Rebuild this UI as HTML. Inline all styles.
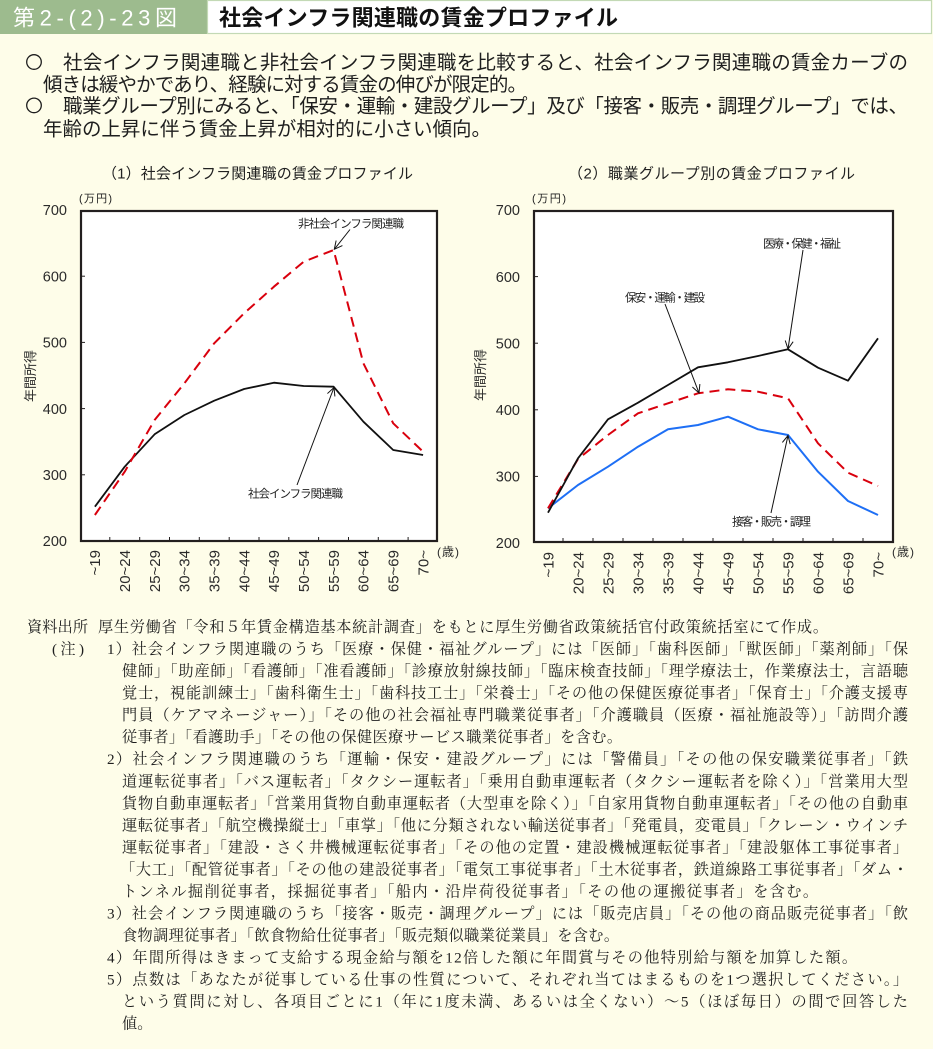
<!DOCTYPE html>
<html><head><meta charset="utf-8">
<style>
html,body{margin:0;padding:0;background:#fefde9;}
body{width:933px;height:1049px;overflow:hidden;position:relative;}
svg{position:absolute;left:0;top:0;}
.s{font-family:"Liberation Sans","Noto Sans CJK JP",sans-serif;}
.m{font-family:"Liberation Serif","Noto Serif CJK SC",serif;}
</style></head>
<body>
<svg width="933" height="1049" viewBox="0 0 933 1049" xmlns="http://www.w3.org/2000/svg">
<defs>
<marker id="ah" markerWidth="10" markerHeight="10" refX="9" refY="5" orient="auto" markerUnits="userSpaceOnUse">
<path d="M1,1 L9,5 L1,9" fill="none" stroke="#111" stroke-width="1"/>
</marker>
</defs>
<rect x="0" y="0" width="933" height="1049" fill="#fefde9"/>
<!-- header -->
<rect x="0" y="0" width="207" height="34" fill="#9dbb8e"/>
<rect x="207.5" y="0.5" width="724" height="33" fill="#ffffff" stroke="#c3d9b5" stroke-width="1.2"/>
<text class="s" x="13" y="25.5" font-size="22" fill="#ffffff" textLength="164" lengthAdjust="spacing">第2-(2)-23図</text>
<text class="s" x="219" y="25.5" font-size="22" font-weight="bold" fill="#111" textLength="399" lengthAdjust="spacing">社会インフラ関連職の賃金プロファイル</text>

<!-- bullets -->
<circle cx="34" cy="62" r="7.3" fill="none" stroke="#1e1e1e" stroke-width="1.3"/>
<circle cx="34" cy="105.4" r="7.3" fill="none" stroke="#1e1e1e" stroke-width="1.3"/>
<g class="s" font-size="19.5" fill="#1e1e1e">
<text x="63" y="69" textLength="845" lengthAdjust="spacing">社会インフラ関連職と非社会インフラ関連職を比較すると、社会インフラ関連職の賃金カーブの</text>
<text x="43" y="91" textLength="484" lengthAdjust="spacing">傾きは緩やかであり、経験に対する賃金の伸びが限定的。</text>
<text x="63" y="112.4" textLength="845" lengthAdjust="spacing">職業グループ別にみると、「保安・運輸・建設グループ」及び「接客・販売・調理グループ」では、</text>
<text x="43" y="135.4" textLength="448" lengthAdjust="spacing">年齢の上昇に伴う賃金上昇が相対的に小さい傾向。</text>
</g>

<!-- chart 1 -->
<g class="s" fill="#222">
<text x="102" y="178.7" font-size="15" textLength="311" lengthAdjust="spacing">（1）社会インフラ関連職の賃金プロファイル</text>
<text x="79" y="202" font-size="11" textLength="33" lengthAdjust="spacing">(万円)</text>
<g font-size="14.5" text-anchor="end" fill="#2b2b2b">
<text x="67" y="215.2">700</text>
<text x="67" y="281.4">600</text>
<text x="67" y="347.6">500</text>
<text x="67" y="413.8">400</text>
<text x="67" y="480">300</text>
<text x="67" y="546.2">200</text>
</g>
<text transform="translate(35,376) rotate(-90)" font-size="13" text-anchor="middle" fill="#2b2b2b">年間所得</text>
</g>
<rect x="81" y="211" width="356" height="330" fill="#ffffff" stroke="#231f1f" stroke-width="2.2"/>
<g stroke="#231f1f" stroke-width="1">
<line x1="109.8" y1="541" x2="109.8" y2="537"/>
<line x1="139.7" y1="541" x2="139.7" y2="537"/>
<line x1="169.5" y1="541" x2="169.5" y2="537"/>
<line x1="199.3" y1="541" x2="199.3" y2="537"/>
<line x1="229.2" y1="541" x2="229.2" y2="537"/>
<line x1="259" y1="541" x2="259" y2="537"/>
<line x1="288.8" y1="541" x2="288.8" y2="537"/>
<line x1="318.6" y1="541" x2="318.6" y2="537"/>
<line x1="348.5" y1="541" x2="348.5" y2="537"/>
<line x1="378.3" y1="541" x2="378.3" y2="537"/>
<line x1="408.1" y1="541" x2="408.1" y2="537"/>
<line x1="81" y1="276.2" x2="85" y2="276.2"/>
<line x1="81" y1="342.4" x2="85" y2="342.4"/>
<line x1="81" y1="408.6" x2="85" y2="408.6"/>
<line x1="81" y1="474.8" x2="85" y2="474.8"/>
</g>
<polyline fill="none" stroke="#111" stroke-width="1.8" stroke-linejoin="round"
 points="94.9,506.7 124.7,466.7 154.6,434.3 184.4,415 214.2,400.7 244.1,389 273.9,382.7 303.7,386 333.6,386.7 363.4,421.7 393.2,450 423.1,455"/>
<polyline fill="none" stroke="#d9000d" stroke-width="2" stroke-dasharray="10 6" stroke-linejoin="round"
 points="94.9,515 124.7,471.7 154.6,420 184.4,383.3 214.2,343.3 244.1,313.3 273.9,286.7 303.7,261.7 333.6,250 363.4,363.3 393.2,423.3 423.1,451.7"/>
<g class="s" font-size="15" fill="#2b2b2b" text-anchor="end">
<text transform="translate(100.2,550) rotate(-90)">~19</text>
<text transform="translate(130,550) rotate(-90)">20~24</text>
<text transform="translate(159.9,550) rotate(-90)">25~29</text>
<text transform="translate(189.7,550) rotate(-90)">30~34</text>
<text transform="translate(219.5,550) rotate(-90)">35~39</text>
<text transform="translate(249.4,550) rotate(-90)">40~44</text>
<text transform="translate(279.2,550) rotate(-90)">45~49</text>
<text transform="translate(309,550) rotate(-90)">50~54</text>
<text transform="translate(338.9,550) rotate(-90)">55~59</text>
<text transform="translate(368.7,550) rotate(-90)">60~64</text>
<text transform="translate(398.5,550) rotate(-90)">65~69</text>
<text transform="translate(428.4,550) rotate(-90)">70~</text>
</g>
<text class="s" x="437" y="556" font-size="12" fill="#2b2b2b" textLength="22" lengthAdjust="spacing">(歳)</text>
<g class="s" font-size="11.5" fill="#222">
<text x="298" y="227.5" textLength="106" lengthAdjust="spacing">非社会インフラ関連職</text>
<text x="248" y="497.5" textLength="95" lengthAdjust="spacing">社会インフラ関連職</text>
</g>
<g stroke="#111" stroke-width="1" fill="none">
<line x1="350" y1="229.5" x2="334.3" y2="249.3" marker-end="url(#ah)"/>
<line x1="297" y1="485" x2="334" y2="387.5" marker-end="url(#ah)"/>
</g>

<!-- chart 2 -->
<g class="s" fill="#222">
<text x="568" y="178.7" font-size="15" textLength="287" lengthAdjust="spacing">（2）職業グループ別の賃金プロファイル</text>
<text x="532" y="202" font-size="11" textLength="34" lengthAdjust="spacing">(万円)</text>
<g font-size="14.5" text-anchor="end" fill="#2b2b2b">
<text x="520" y="215.2">700</text>
<text x="520" y="281.8">600</text>
<text x="520" y="348.4">500</text>
<text x="520" y="415">400</text>
<text x="520" y="481.6">300</text>
<text x="520" y="548.2">200</text>
</g>
<text transform="translate(485,375) rotate(-90)" font-size="13" text-anchor="middle" fill="#2b2b2b">年間所得</text>
</g>
<rect x="534" y="211" width="359" height="331" fill="#ffffff" stroke="#231f1f" stroke-width="2.2"/>
<g stroke="#231f1f" stroke-width="1">
<line x1="563" y1="542" x2="563" y2="538"/>
<line x1="593" y1="542" x2="593" y2="538"/>
<line x1="623" y1="542" x2="623" y2="538"/>
<line x1="653" y1="542" x2="653" y2="538"/>
<line x1="683" y1="542" x2="683" y2="538"/>
<line x1="713" y1="542" x2="713" y2="538"/>
<line x1="743" y1="542" x2="743" y2="538"/>
<line x1="773" y1="542" x2="773" y2="538"/>
<line x1="803" y1="542" x2="803" y2="538"/>
<line x1="833" y1="542" x2="833" y2="538"/>
<line x1="863" y1="542" x2="863" y2="538"/>
<line x1="534" y1="276.6" x2="538" y2="276.6"/>
<line x1="534" y1="343.2" x2="538" y2="343.2"/>
<line x1="534" y1="409.8" x2="538" y2="409.8"/>
<line x1="534" y1="476.4" x2="538" y2="476.4"/>
</g>
<polyline fill="none" stroke="#1e6ff5" stroke-width="2" stroke-linejoin="round"
 points="548,508.3 578,485 608,466.7 638,446.7 668,429.3 698,425 728,416.7 758,429.3 788,435 818,471.7 848,501 878,515"/>
<polyline fill="none" stroke="#d9000d" stroke-width="2" stroke-dasharray="10 6" stroke-linejoin="round"
 points="548,508.3 578,459 608,435 638,413.3 668,403.3 698,393.3 728,389.3 758,391.7 788,398.3 818,443.3 848,472.7 878,486"/>
<polyline fill="none" stroke="#111" stroke-width="1.8" stroke-linejoin="round"
 points="548,512.7 578,458.3 608,419.3 638,402.7 668,385 698,367.3 728,362.3 758,356 788,349.3 818,367.7 848,380.7 878,338.3"/>
<g class="s" font-size="15" fill="#2b2b2b" text-anchor="end">
<text transform="translate(553.3,552) rotate(-90)">~19</text>
<text transform="translate(583.3,552) rotate(-90)">20~24</text>
<text transform="translate(613.3,552) rotate(-90)">25~29</text>
<text transform="translate(643.3,552) rotate(-90)">30~34</text>
<text transform="translate(673.3,552) rotate(-90)">35~39</text>
<text transform="translate(703.3,552) rotate(-90)">40~44</text>
<text transform="translate(733.3,552) rotate(-90)">45~49</text>
<text transform="translate(763.3,552) rotate(-90)">50~54</text>
<text transform="translate(793.3,552) rotate(-90)">55~59</text>
<text transform="translate(823.3,552) rotate(-90)">60~64</text>
<text transform="translate(853.3,552) rotate(-90)">65~69</text>
<text transform="translate(883.3,552) rotate(-90)">70~</text>
</g>
<text class="s" x="892" y="556" font-size="12" fill="#2b2b2b" textLength="22" lengthAdjust="spacing">(歳)</text>
<g class="s" font-size="11.5" fill="#222">
<text x="763" y="247.5" textLength="78" lengthAdjust="spacing">医療・保健・福祉</text>
<text x="625" y="301.5" textLength="80" lengthAdjust="spacing">保安・運輸・建設</text>
<text x="732" y="525.5" textLength="79" lengthAdjust="spacing">接客・販売・調理</text>
</g>
<g stroke="#111" stroke-width="1" fill="none">
<line x1="803" y1="250" x2="788" y2="349" marker-end="url(#ah)"/>
<line x1="665" y1="304" x2="699" y2="393" marker-end="url(#ah)"/>
<line x1="771" y1="513" x2="788" y2="435.5" marker-end="url(#ah)"/>
</g>

<!-- notes -->
<g class="m" font-size="15.2" fill="#1e1e1e">
<text x="27" y="632" textLength="61" lengthAdjust="spacing">資料出所</text>
<text x="98" y="632" textLength="730" lengthAdjust="spacing">厚生労働省「令和５年賃金構造基本統計調査」をもとに厚生労働省政策統括官付政策統括室にて作成。</text>
<text x="52" y="654" textLength="32" lengthAdjust="spacing">(注)</text>
<text x="107" y="654" textLength="801" lengthAdjust="spacing">1）社会インフラ関連職のうち「医療・保健・福祉グループ」には「医師」「歯科医師」「獣医師」「薬剤師」「保</text>
<text x="122" y="676.1" textLength="786" lengthAdjust="spacing">健師」「助産師」「看護師」「准看護師」「診療放射線技師」「臨床検査技師」「理学療法士，作業療法士，言語聴</text>
<text x="122" y="698.1" textLength="786" lengthAdjust="spacing">覚士，視能訓練士」「歯科衛生士」「歯科技工士」「栄養士」「その他の保健医療従事者」「保育士」「介護支援専</text>
<text x="122" y="720.2" textLength="786" lengthAdjust="spacing">門員（ケアマネージャー）」「その他の社会福祉専門職業従事者」「介護職員（医療・福祉施設等）」「訪問介護</text>
<text x="122" y="742.2" textLength="500" lengthAdjust="spacing">従事者」「看護助手」「その他の保健医療サービス職業従事者」を含む。</text>
<text x="107" y="764.2" textLength="801" lengthAdjust="spacing">2）社会インフラ関連職のうち「運輸・保安・建設グループ」には「警備員」「その他の保安職業従事者」「鉄</text>
<text x="122" y="786.3" textLength="786" lengthAdjust="spacing">道運転従事者」「バス運転者」「タクシー運転者」「乗用自動車運転者（タクシー運転者を除く）」「営業用大型</text>
<text x="122" y="808.3" textLength="786" lengthAdjust="spacing">貨物自動車運転者」「営業用貨物自動車運転者（大型車を除く）」「自家用貨物自動車運転者」「その他の自動車</text>
<text x="122" y="830.4" textLength="786" lengthAdjust="spacing">運転従事者」「航空機操縦士」「車掌」「他に分類されない輸送従事者」「発電員，変電員」「クレーン・ウインチ</text>
<text x="122" y="852.4" textLength="786" lengthAdjust="spacing">運転従事者」「建設・さく井機械運転従事者」「その他の定置・建設機械運転従事者」「建設躯体工事従事者」</text>
<text x="120" y="874.4" textLength="788" lengthAdjust="spacing">「大工」「配管従事者」「その他の建設従事者」「電気工事従事者」「土木従事者，鉄道線路工事従事者」「ダム・</text>
<text x="122" y="896.5" textLength="696" lengthAdjust="spacing">トンネル掘削従事者，採掘従事者」「船内・沿岸荷役従事者」「その他の運搬従事者」を含む。</text>
<text x="107" y="918.5" textLength="801" lengthAdjust="spacing">3）社会インフラ関連職のうち「接客・販売・調理グループ」には「販売店員」「その他の商品販売従事者」「飲</text>
<text x="122" y="940.6" textLength="497" lengthAdjust="spacing">食物調理従事者」「飲食物給仕従事者」「販売類似職業従業員」を含む。</text>
<text x="107" y="962.6" textLength="750" lengthAdjust="spacing">4）年間所得はきまって支給する現金給与額を12倍した額に年間賞与その他特別給与額を加算した額。</text>
<text x="107" y="984.6" textLength="801" lengthAdjust="spacing">5）点数は「あなたが従事している仕事の性質について、それぞれ当てはまるものを1つ選択してください。」</text>
<text x="122" y="1006.7" textLength="786" lengthAdjust="spacing">という質問に対し、各項目ごとに1（年に1度未満、あるいは全くない）～5（ほぼ毎日）の間で回答した</text>
<text x="122" y="1028.7">値。</text>
</g>
</svg>
</body></html>
